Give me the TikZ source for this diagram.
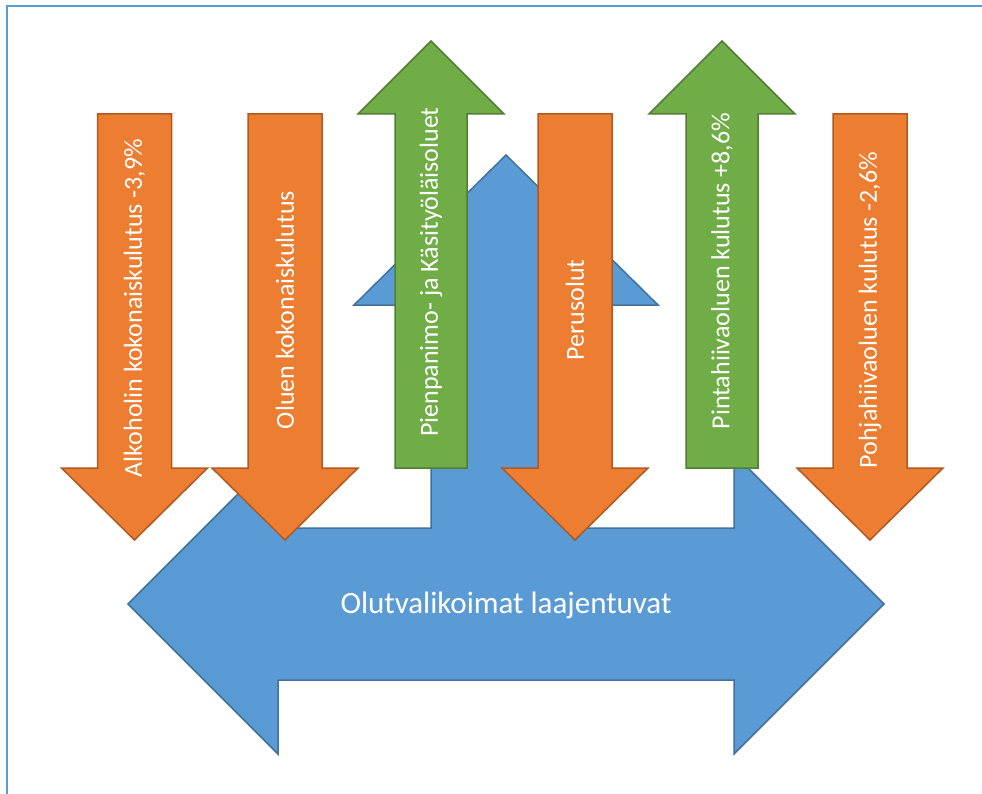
\documentclass[tikz,border=0pt]{standalone}
\usepackage{fontspec}
\setmainfont{Carlito}
\definecolor{orfill}{HTML}{ED7D31}
\definecolor{ordraw}{HTML}{AE5A21}
\definecolor{grfill}{HTML}{70AD47}
\definecolor{grdraw}{HTML}{507E32}
\definecolor{blfill}{HTML}{5B9BD5}
\definecolor{bldraw}{HTML}{41719C}
\definecolor{frame}{HTML}{5B9BD5}
\tikzset{
  orshape/.style={fill=orfill,draw=ordraw,line width=1.5pt,line join=miter},
  grshape/.style={fill=grfill,draw=grdraw,line width=1.5pt,line join=miter},
  blshape/.style={fill=blfill,draw=bldraw,line width=1.5pt,line join=miter},
  vlabel/.style={rotate=90,text=white,font=\fontsize{26}{30}\selectfont,inner sep=0pt},
  hlabel/.style={text=white,font=\fontsize{31}{36}\selectfont,inner sep=0pt}
}
\newcommand{\orarrow}[1]{%
  \draw[orshape] (#1-37,114) -- (#1+37,114) -- (#1+37,468) -- (#1+73,468) -- (#1,540) -- (#1-73,468) -- (#1-37,468) -- cycle;}
\newcommand{\grarrow}[1]{%
  \draw[grshape] (#1-36,468) -- (#1+36,468) -- (#1+36,114) -- (#1+73,114) -- (#1,41) -- (#1-73,114) -- (#1-36,114) -- cycle;}
\begin{document}
\begin{tikzpicture}[x=1pt,y=-1pt]
\useasboundingbox (0,0) rectangle (982,794);
\fill[white] (0,0) rectangle (982,794);
% frame (top and left edges)
\draw[frame,line width=2pt] (7,794) -- (7,6) -- (982,6);
% blue three-way arrow
\draw[blshape] (128,604) -- (278,454) -- (278,528) -- (431,528) -- (431,305) -- (354,305)
  -- (506,155) -- (658,305) -- (581,305) -- (581,528) -- (734,528) -- (734,454)
  -- (884,604) -- (734,754) -- (734,680) -- (278,680) -- (278,754) -- cycle;
\node[hlabel,anchor=base] (sel) at (506,613) {Olutvalikoimat laajentuvat};
% orange arrows
\orarrow{134.5}
\orarrow{285}
\orarrow{575}
\orarrow{870}
% green arrows
\grarrow{431}
\grarrow{722}
% labels
\node[vlabel] (alk) at (134.5,308) {Alkoholin kokonaiskulutus -3,9\%};
\node[vlabel] (olu) at (285,310) {Oluen kokonaiskulutus};
\node[vlabel] (pie) at (431,272) {Pienpanimo- ja Käsityöläisoluet};
\node[vlabel] (per) at (575,310) {Perusolut};
\node[vlabel] (pin) at (722,271) {Pintahiivaoluen kulutus +8,6\%};
\node[vlabel] (poh) at (870,310) {Pohjahiivaoluen kulutus -2,6\%};
\end{tikzpicture}
\end{document}
